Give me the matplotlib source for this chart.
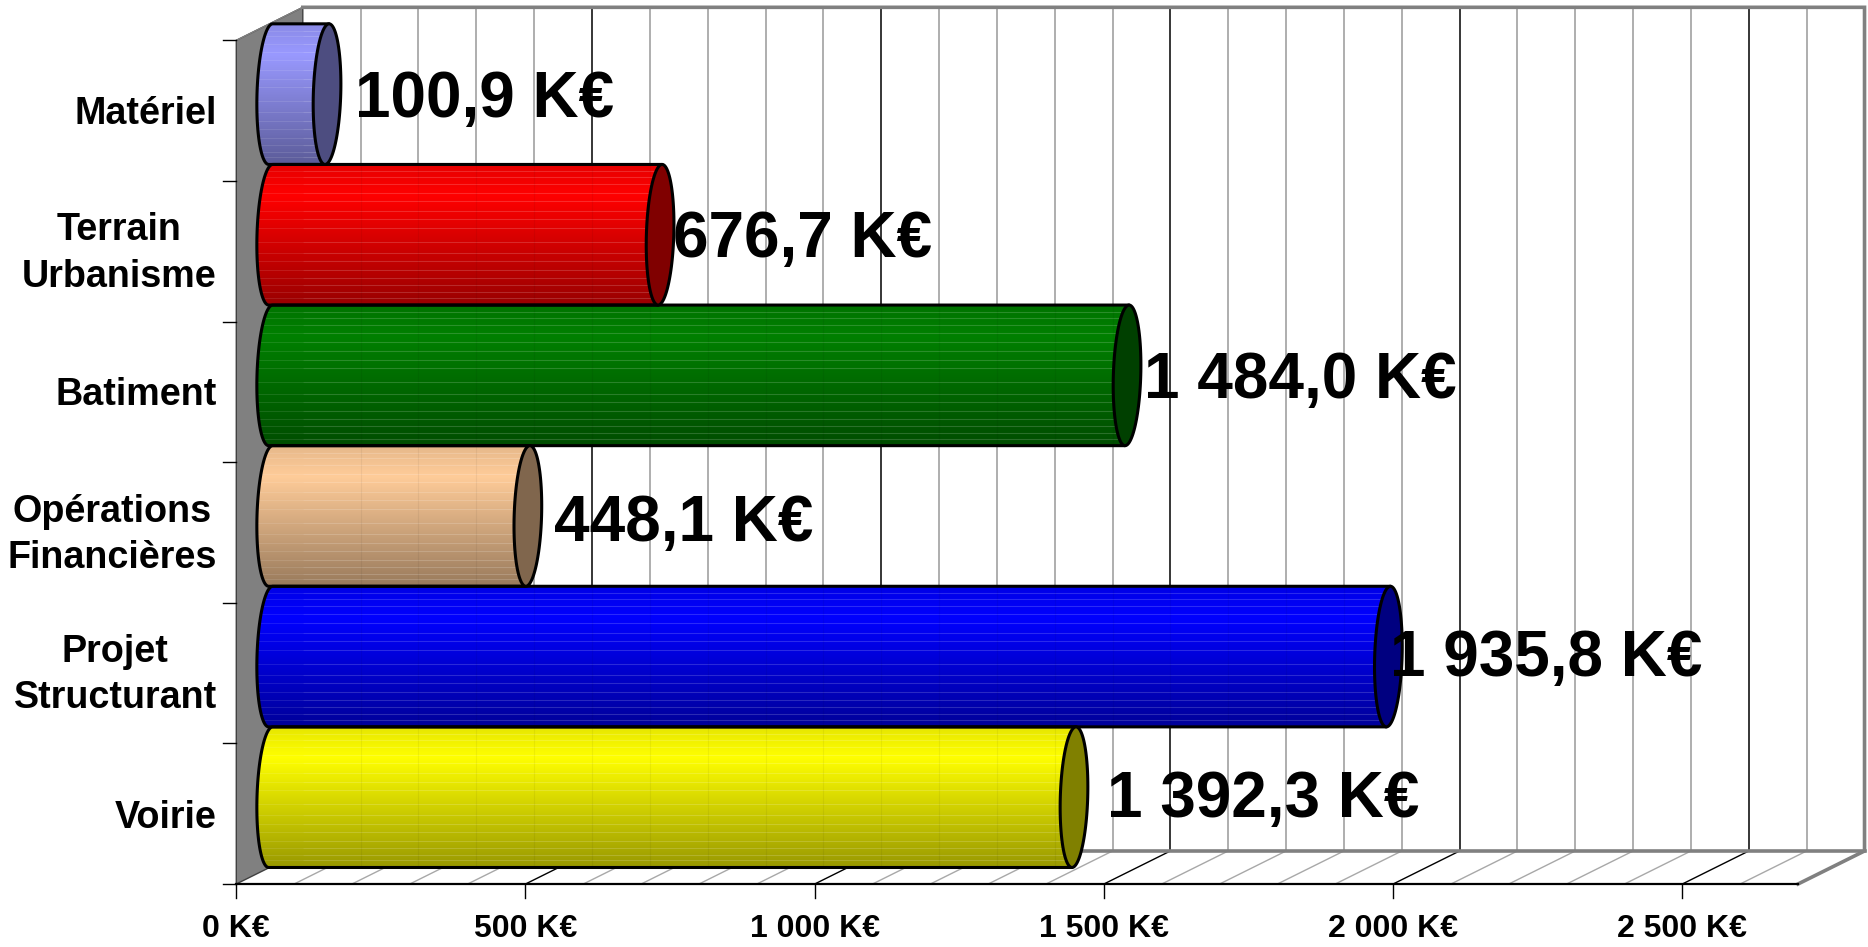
import numpy as np
import matplotlib
matplotlib.use("Agg")
import matplotlib.pyplot as plt
from matplotlib.patches import Polygon
from matplotlib.colors import to_rgb

# --------------------------------------------------
# Data (bottom to top)
# --------------------------------------------------

categories = ["Voirie", "Projet\nStructurant", "Opérations\nFinancières",
              "Batiment", "Terrain\nUrbanisme", "Matériel"]
values = [1392.3, 1935.8, 448.1, 1484.0, 676.7, 100.9]
value_labels = ["1 392,3 K€", "1 935,8 K€", "448,1 K€",
                "1 484,0 K€", "676,7 K€", "100,9 K€"]
bar_colors = ["#ffff00", "#0000ff", "#ffcc99", "#008000", "#ff0000", "#9999ff"]
x_ticks = [0, 500, 1000, 1500, 2000, 2500]
x_tick_labels = ["0 K€", "500 K€", "1 000 K€", "1 500 K€", "2 000 K€", "2 500 K€"]
x_max = 2700
grid_step = 100

# label nudges, in K€ and category units
label_dx = [55, 1, 43, 27, 21, 47]
label_dy = [0.025, 0.027, -0.012, 0.007, 0.012, 0.007]
# single line names sit a little lower than the two line ones
name_dy = [-0.028, -0.016, -0.016, -0.022, -0.016, -0.022]

# --------------------------------------------------
# Style
# --------------------------------------------------

FONT = "Liberation Sans"
DEPTH_X = 115
DEPTH_Y = 0.235
CAP_A = 23.7
CAP_SHEAR = 3.5
END_SHIFT = 1.5
WALL = "#808080"
N_CAT = len(categories)

fig = plt.figure(figsize=(18.68, 9.47), dpi=100)
ax = fig.add_axes([0, 0, 1, 1])
ax.set_xlim(-408.5, 2821)
ax.set_ylim(-0.948, 5.787)
ax.axis("off")

y0 = -0.5
y1 = N_CAT - 0.5

# --------------------------------------------------
# Walls and floor
# --------------------------------------------------

ax.add_patch(Polygon([(0, y0), (DEPTH_X, y0 + DEPTH_Y),
                      (DEPTH_X, y1 + DEPTH_Y), (0, y1)],
                     facecolor=WALL, edgecolor="#404040", lw=1, zorder=1))

grid_values = np.arange(grid_step, x_max, grid_step)
for v in grid_values:
    major = v % 500 == 0
    color = "#000000" if major else "#a8a8a8"
    lw = 1.1 if major else 1.3
    ax.plot([v + DEPTH_X, v + DEPTH_X], [y0 + DEPTH_Y, y1 + DEPTH_Y],
            color=color, lw=lw, zorder=1, solid_capstyle="butt")
    ax.plot([v, v + DEPTH_X], [y0, y0 + DEPTH_Y],
            color=color, lw=1.0, zorder=1)

ax.plot([DEPTH_X, x_max + DEPTH_X, x_max + DEPTH_X, x_max],
        [y1 + DEPTH_Y, y1 + DEPTH_Y, y0 + DEPTH_Y, y0],
        color=WALL, lw=2.6, zorder=2, solid_joinstyle="miter")
ax.plot([DEPTH_X, x_max + DEPTH_X], [y0 + DEPTH_Y, y0 + DEPTH_Y],
        color=WALL, lw=2.6, zorder=2)
ax.plot([0, x_max], [y0, y0], color="black", lw=1.6, zorder=2)
ax.plot([0, DEPTH_X], [y1, y1 + DEPTH_Y], color=WALL, lw=1, zorder=2)

# ticks
for v in x_ticks:
    ax.plot([v, v], [y0, y0 - 0.1], color="black", lw=1, zorder=2)
for i in range(N_CAT + 1):
    ax.plot([-23, 0], [y0 + i, y0 + i], color="black", lw=1, zorder=2)

# --------------------------------------------------
# Cylinders
# --------------------------------------------------

t = np.linspace(0, 2 * np.pi, 121)
stops = [0.0, 0.22, 1.0]
shades = [0.9, 1.0, 0.6]
band_lines = [0.05, 0.09, 0.14, 0.2, 0.26, 0.33, 0.39, 0.45, 0.55, 0.63,
              0.69, 0.75, 0.81, 0.86, 0.91, 0.95]

for i, (v, col) in enumerate(zip(values, bar_colors)):
    cx0 = DEPTH_X / 2 + 2
    cx1 = v + DEPTH_X / 2 - END_SHIFT
    cy = i + DEPTH_Y / 2

    cos_t = np.cos(t)
    sin_t = np.sin(t)
    tl = np.linspace(np.pi / 2, 3 * np.pi / 2, 61)
    px_left = cx0 + CAP_A * np.cos(tl) + CAP_SHEAR * np.sin(tl)
    py_left = cy + 0.5 * np.sin(tl)
    tr = np.linspace(-np.pi / 2, np.pi / 2, 61)
    px_end = cx1 + CAP_SHEAR * np.sin(tr)
    py_end = cy + 0.5 * np.sin(tr)

    body_x = np.r_[px_left, px_end]
    body_y = np.r_[py_left, py_end]
    body = Polygon(np.c_[body_x, body_y], closed=True, facecolor="none",
                   edgecolor="black", lw=2.2, zorder=4, joinstyle="round")

    frac = np.linspace(0, 1, 200)
    shade = np.interp(frac, stops, shades)
    rgb = np.array(to_rgb(col))
    grad = (shade[:, None] * rgb)[:, None, :]
    im = ax.imshow(grad, extent=[cx0 - CAP_A - 10, cx1 + 10, cy - 0.5, cy + 0.5],
                   origin="upper", aspect="auto", interpolation="bilinear", zorder=3)
    clip = Polygon(np.c_[body_x, body_y], closed=True, transform=ax.transData)
    im.set_clip_path(clip)

    # thin pale banding lines across the body, stronger past the back wall
    for f in band_lines:
        line, = ax.plot([cx0 - CAP_A, DEPTH_X], [cy + 0.5 - f, cy + 0.5 - f],
                        color="white", lw=0.8, alpha=0.1, zorder=3.2,
                        solid_capstyle="butt")
        line.set_clip_path(clip)
        line, = ax.plot([DEPTH_X, cx1 + 5], [cy + 0.5 - f, cy + 0.5 - f],
                        color="white", lw=0.8, alpha=0.17, zorder=3.2,
                        solid_capstyle="butt")
        line.set_clip_path(clip)

    # back wall grid faintly through the body
    for g in grid_values:
        if g + DEPTH_X < cx1:
            line, = ax.plot([g + DEPTH_X, g + DEPTH_X], [cy - 0.5, cy + 0.5],
                            color="black", lw=0.8, alpha=0.05, zorder=3.2)
            line.set_clip_path(clip)

    ax.add_patch(body)

    # end cap
    cap_x = cx1 + CAP_A * cos_t + CAP_SHEAR * sin_t
    cap_y = cy + 0.5 * sin_t
    ax.add_patch(Polygon(np.c_[cap_x, cap_y], closed=True, facecolor=rgb * 0.5,
                         edgecolor="black", lw=2.2, zorder=5))

    ax.text(cx1 + END_SHIFT + label_dx[i], i + DEPTH_Y / 2 + label_dy[i], value_labels[i],
            fontsize=46, fontweight="bold", family=FONT, color="black",
            ha="left", va="center_baseline", zorder=6)

# --------------------------------------------------
# Axis labels
# --------------------------------------------------

for i, name in enumerate(categories):
    ax.text(-33.5, i + name_dy[i], name, fontsize=27.2, fontweight="bold", family=FONT,
            ha="right", va="center", multialignment="center", linespacing=1.36)

for v, name in zip(x_ticks, x_tick_labels):
    ax.text(v, y0 - 0.32, name, fontsize=23, fontweight="bold", family=FONT,
            ha="center", va="center")

fig.savefig("out.png", dpi=100, facecolor="white")
plt.close(fig)
